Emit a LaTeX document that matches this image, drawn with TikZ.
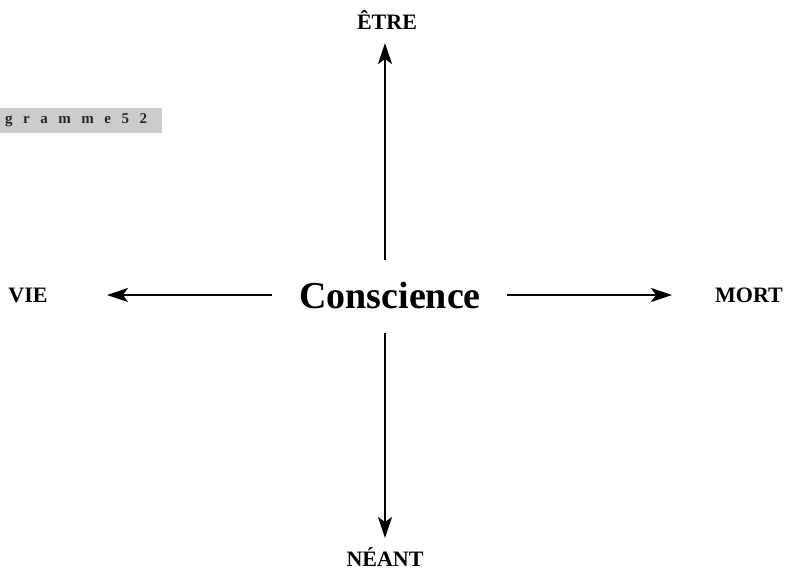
\documentclass[tikz,border=0pt]{standalone}
\usepackage{fontspec}
\setmainfont{Liberation Serif}
\usetikzlibrary{arrows.meta}
\newcommand{\gsp}{\hspace{10.5pt}}
\begin{document}
\begin{tikzpicture}[x=1pt,y=-1pt,
  lbl/.style={font=\bfseries\fontsize{22}{24}\selectfont, inner sep=0pt},
  conn/.style={line width=2.2pt, -{Stealth[length=21pt,width=14pt,inset=5pt]}}]
\useasboundingbox (0,0) rectangle (791,571);
\node[font=\bfseries\fontsize{38}{40}\selectfont, inner sep=0pt] (c) at (390,295) {Conscience};
\node[lbl] (etre) at (387,20) {ÊTRE};
\node[lbl] (neant) at (385,557) {NÉANT};
\node[lbl] (vie) at (28,295) {VIE};
\node[lbl] (mort) at (749,295) {MORT};
\node[fill=black!20, anchor=north west, minimum width=162pt, minimum height=25pt, inner sep=0pt] (box) at (0,108) {};
\node[anchor=west, font=\bfseries\fontsize{15}{17}\selectfont, text=black!85, inner sep=0pt] (boxt) at (5,120.5) {g\gsp r\gsp a\gsp m\gsp m\gsp e\gsp 5\gsp 2};
\coordinate (ut) at (385,260); \coordinate (uh) at (385,43);
\coordinate (dt) at (385,333); \coordinate (dh) at (385,538);
\coordinate (lt) at (272,295); \coordinate (lh) at (107,295);
\coordinate (rt) at (507,295); \coordinate (rh) at (672,295);
\draw[conn] (ut) -- (uh);
\draw[conn] (dt) -- (dh);
\draw[conn] (lt) -- (lh);
\draw[conn] (rt) -- (rh);
\end{tikzpicture}
\end{document}
